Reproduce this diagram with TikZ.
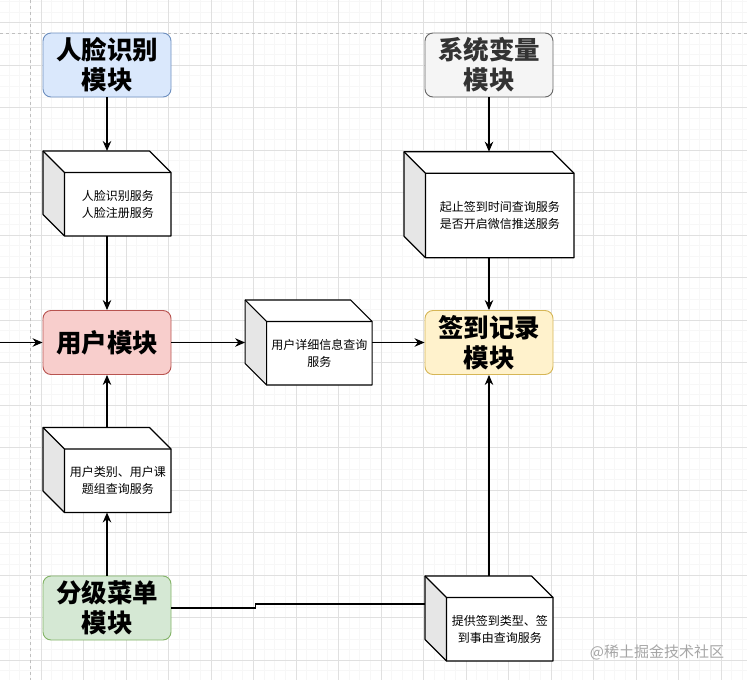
\documentclass[tikz,border=0pt]{standalone}
\usepackage{fontspec}
\setmainfont{Noto Sans CJK SC}
\usetikzlibrary{positioning,arrows.meta,calc}

\definecolor{faceblue}{HTML}{DAE8FC}
\definecolor{facebluel}{HTML}{6C8EBF}
\definecolor{sysgray}{HTML}{F5F5F5}
\definecolor{sysgrayl}{HTML}{666666}
\definecolor{userred}{HTML}{F8CECC}
\definecolor{userredl}{HTML}{B85450}
\definecolor{signyel}{HTML}{FFF2CC}
\definecolor{signyell}{HTML}{D6B656}
\definecolor{menugreen}{HTML}{D5E8D4}
\definecolor{menugreenl}{HTML}{82B366}
\definecolor{cubeside}{HTML}{E6E6E6}

\tikzset{
  module/.style={draw,rounded corners=8pt,line width=0.9pt,minimum width=128pt,minimum height=64pt,
    align=center,font=\fontsize{25.5pt}{30pt}\selectfont\bfseries,inner sep=0pt},
  cubebox/.style={inner sep=0pt,outer sep=0pt},
  cubetext/.style={align=center,font=\fontsize{12pt}{17pt}\selectfont,inner sep=0pt},
  gridminor/.style={line width=0.4pt,color=black!3},
  gridmajor/.style={line width=0.6pt,color=black!12},
}

% cube: name, centre, width, height, text
\newcommand{\svccube}[5]{%
  \node[cubebox,minimum width=#3,minimum height=#4] (#1) at (#2) {};
  \fill[white] (#1.north west) -- ([xshift=-21.5pt]#1.north east) -- ([yshift=-21.5pt]#1.north east)
    -- (#1.south east) -- ([xshift=21.5pt]#1.south west) -- ([yshift=21.5pt]#1.south west) -- cycle;
  \fill[cubeside] (#1.north west) -- ([xshift=21.5pt,yshift=-21.5pt]#1.north west)
    -- ([xshift=21.5pt]#1.south west) -- ([yshift=21.5pt]#1.south west) -- cycle;
  \draw[line width=1.2pt,line join=round] (#1.north west) -- ([xshift=-21.5pt]#1.north east) -- ([yshift=-21.5pt]#1.north east)
    -- (#1.south east) -- ([xshift=21.5pt]#1.south west) -- ([yshift=21.5pt]#1.south west) -- cycle;
  \draw[line width=1.2pt] (#1.north west) -- ([xshift=21.5pt,yshift=-21.5pt]#1.north west) -- ([yshift=-21.5pt]#1.north east)
    ([xshift=21.5pt,yshift=-21.5pt]#1.north west) -- ([xshift=21.5pt]#1.south west);
  \node[cubetext] (#1-txt) at ($([xshift=21.5pt,yshift=-21.5pt]#1.north west)!0.5!(#1.south east)$) {#5};
}

\begin{document}
\begin{tikzpicture}[x=1pt,y=-1pt,>={Stealth[length=10pt,width=8.5pt]},line width=1.2pt]
\useasboundingbox (0,0) rectangle (747,680);

% grid
\foreach \i in {0,...,71} \draw[gridminor] ({-1.7+10.625*\i},0) -- ++(0,680);
\foreach \i in {0,...,64} \draw[gridminor] (0,{1.25+10.625*\i}) -- ++(747,0);
\foreach \i in {0,...,18} \draw[gridmajor] ({-1.7+42.5*\i},0) -- ++(0,680);
\foreach \i in {0,...,16} \draw[gridmajor] (0,{-20+42.5*\i}) -- ++(747,0);
\draw[line width=0.7pt,black!25,dashed] (30,0) -- (30,680) (0,33) -- (747,33);

% modules
\node[module,fill=faceblue,draw=facebluel] (face) at (107,65) {人脸识别\\模块};
\node[module,fill=sysgray,draw=sysgrayl,text=black!80] (sysvar) at (489,65) {系统变量\\模块};
\node[module,fill=userred,draw=userredl] (user) at (107,342.5) {用户模块};
\node[module,fill=signyel,draw=signyell] (sign) at (489,342.5) {签到记录\\模块};
\node[module,fill=menugreen,draw=menugreenl] (menu) at (107,608) {分级菜单\\模块};

% services
\svccube{facesvc}{107,193.5}{128pt}{85pt}{人脸识别服务\\人脸注册服务}
\svccube{timesvc}{489,204.7}{170pt}{106pt}{起止签到时间查询服务\\是否开启微信推送服务}
\svccube{infosvc}{308.6,342.5}{127pt}{85pt}{用户详细信息查询\\服务}
\svccube{typesvc}{107,470}{128pt}{85pt}{用户类别、用户课\\题组查询服务}
\svccube{reasonsvc}{489,618.5}{128pt}{85pt}{提供签到类型、签\\到事由查询服务}

% connectors
\coordinate (entry) at (0,342.5);
\draw[->] (face) -- (facesvc);
\draw[->] (facesvc) -- (user);
\draw[->] (entry) -- (user);
\draw[->] (typesvc) -- (user);
\draw[->] (menu) -- (typesvc);
\draw[->] (user) -- (infosvc);
\draw[->] (infosvc) -- (sign);
\draw[->] (sysvar) -- (timesvc);
\draw[->] (timesvc) -- (sign);
\draw[->] (reasonsvc) -- (sign);
\draw (menu.east) -- ++(84,0) |- ([yshift=14.5pt]reasonsvc.west);

% watermark
\node[font=\fontsize{15pt}{15pt}\selectfont,text=black!35,inner sep=0pt] (mark) at (657,652) {@稀土掘金技术社区};
\end{tikzpicture}
\end{document}
